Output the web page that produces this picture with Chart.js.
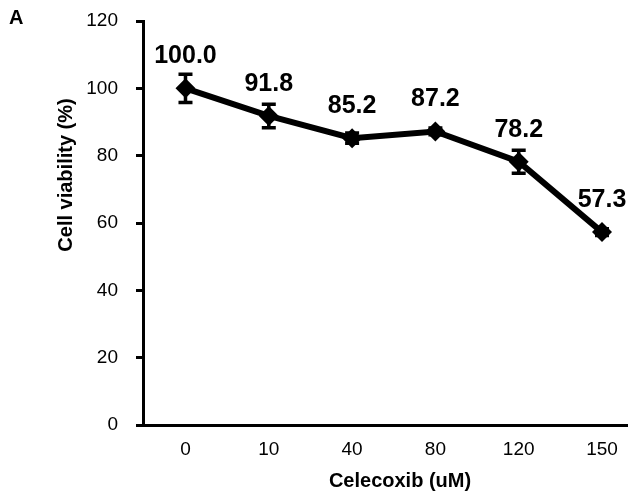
<!DOCTYPE html>
<html>
<head>
<meta charset="utf-8">
<script src="https://cdn.jsdelivr.net/npm/chart.js@4/dist/chart.umd.min.js"></script>
<style>
  html, body { margin: 0; padding: 0; background: #fff; }
  #wrap { width: 637px; height: 501px; position: relative; }
</style>
</head>
<body>
<div id="wrap"><canvas id="c" width="637" height="501"></canvas></div>
<script>
const categories = ['0', '10', '40', '80', '120', '150'];
const viability = [100.0, 91.8, 85.2, 87.2, 78.2, 57.3];
const errors = [4.2, 3.5, 1.5, 1.0, 3.4, 1.0];
const yTicks = [0, 20, 40, 60, 80, 100, 120];
const xTitle = 'Celecoxib (uM)';
const yTitle = 'Cell viability (%)';
const panelLabel = 'A';

const FONT = '"Liberation Sans", Arial, sans-serif';

const overlay = {
  id: 'overlay',
  afterDatasetsDraw(chart) {
    const ctx = chart.ctx;
    const xs = chart.scales.x, ys = chart.scales.y;
    ctx.save();
    // error bars
    ctx.strokeStyle = '#000';
    ctx.lineWidth = 3.5;
    viability.forEach((v, i) => {
      const x = xs.getPixelForValue(i);
      const yt = ys.getPixelForValue(v + errors[i]);
      const yb = ys.getPixelForValue(v - errors[i]);
      ctx.beginPath();
      ctx.moveTo(x, yt); ctx.lineTo(x, yb);
      ctx.moveTo(x - 7, yt); ctx.lineTo(x + 7, yt);
      ctx.moveTo(x - 7, yb); ctx.lineTo(x + 7, yb);
      ctx.stroke();
    });
    // value labels
    ctx.fillStyle = '#000';
    ctx.font = 'bold 25px ' + FONT;
    ctx.textAlign = 'center';
    ctx.textBaseline = 'middle';
    viability.forEach((v, i) => {
      const x = xs.getPixelForValue(i);
      const y = ys.getPixelForValue(v);
      ctx.fillText(v.toFixed(1), x, y - 32);
    });
    // axis titles
    ctx.font = 'bold 20px ' + FONT;
    ctx.fillText(xTitle, 400, 481);
    ctx.save();
    ctx.translate(66, 175);
    ctx.rotate(-Math.PI / 2);
    ctx.fillText(yTitle, 0, 0);
    ctx.restore();
    // panel label
    ctx.font = 'bold 20px ' + FONT;
    ctx.textAlign = 'left';
    ctx.fillText(panelLabel, 9, 18);
    ctx.restore();
  }
};

new Chart(document.getElementById('c'), {
  type: 'line',
  data: {
    datasets: [{
      data: viability.map((v, i) => ({ x: i, y: v })),
      borderColor: '#000',
      backgroundColor: '#000',
      borderWidth: 6,
      pointStyle: 'rectRot',
      pointRadius: 10,
      pointHoverRadius: 10,
      pointBackgroundColor: '#000',
      pointBorderColor: '#000',
      pointBorderWidth: 0,
      tension: 0,
      clip: false
    }]
  },
  options: {
    responsive: false,
    animation: false,
    events: [],
    layout: { padding: { left: 0, right: 5, top: 21, bottom: 0 } },
    plugins: { legend: { display: false }, tooltip: { enabled: false } },
    scales: {
      x: {
        type: 'linear',
        min: -0.51,
        max: 5.3,
        afterBuildTicks(scale) { scale.ticks = categories.map((c, i) => ({ value: i })); },
        afterFit(scale) { scale.height = 76; scale.paddingLeft = 0; scale.paddingRight = 0; },
        grid: { display: true, drawOnChartArea: false, drawTicks: false },
        border: { display: true, color: '#000', width: 3 },
        ticks: {
          color: '#000',
          font: { family: FONT, size: 19 },
          padding: 13,
          autoSkip: false,
          maxRotation: 0,
          callback: (v) => categories[v] !== undefined ? categories[v] : ''
        }
      },
      y: {
        min: 0,
        max: 120,
        afterBuildTicks(scale) { scale.ticks = yTicks.map(v => ({ value: v })); },
        afterFit(scale) { scale.width = 143; scale.paddingTop = 0; scale.paddingBottom = 0; },
        grid: { display: true, drawOnChartArea: false, drawTicks: true, tickLength: 7, tickColor: '#000', tickWidth: 3 },
        border: { display: true, color: '#000', width: 3 },
        ticks: {
          color: '#000',
          font: { family: FONT, size: 19 },
          padding: 18
        }
      }
    }
  },
  plugins: [overlay]
});
</script>
</body>
</html>
